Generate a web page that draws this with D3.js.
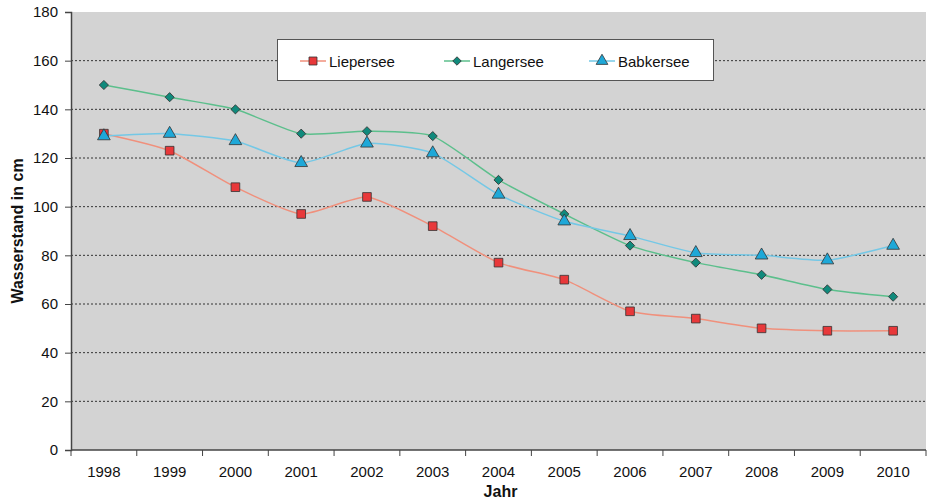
<!DOCTYPE html>
<html>
<head>
<meta charset="utf-8">
<script src="https://cdn.jsdelivr.net/npm/d3@7"></script>
<style>
  html, body { margin: 0; padding: 0; background: #fff; }
  svg { display: block; font-family: "Liberation Sans", Arial, sans-serif; }
</style>
</head>
<body>
<svg id="chart" width="927" height="499"></svg>
<script>
// Jahre und Wasserstände der drei Seen (cm)
const years = ["1998","1999","2000","2001","2002","2003","2004","2005","2006","2007","2008","2009","2010"];
const liepersee = [130, 123, 108, 97, 104, 92, 77, 70, 57, 54, 50, 49, 49];
const langersee = [150, 145, 140, 130, 131, 129, 111, 97, 84, 77, 72, 66, 63];
const babkersee = [129, 130, 127, 118, 126, 122, 105, 94, 88, 81, 80, 78, 84];
const yTicks = [0, 20, 40, 60, 80, 100, 120, 140, 160, 180];

const series = [
  { name: "Liepersee", values: liepersee, line: "#f0907c", fill: "#e8383a", shape: d3.symbolSquare, size: 75, rot: 0 },
  { name: "Langersee", values: langersee, line: "#5cbf8c", fill: "#108a7c", shape: d3.symbolSquare, size: 42, rot: 45 },
  { name: "Babkersee", values: babkersee, line: "#74c8e6", fill: "#1ea8d8", shape: d3.symbolTriangle, size: 70, rot: 0 }
];

const svg = d3.select("#chart");
const m = { left: 71, right: 926, top: 12, bottom: 450 };

const x = d3.scaleBand().domain(years).range([m.left, m.right]);
const y = d3.scaleLinear().domain([0, 180]).range([m.bottom, m.top]);

// Plotfläche
svg.append("rect")
  .attr("x", m.left).attr("y", m.top)
  .attr("width", m.right - m.left).attr("height", m.bottom - m.top)
  .attr("fill", "#d3d3d3");

// Gitterlinien
svg.append("g").selectAll("line")
  .data(yTicks.filter(t => t > 0 && t < 180))
  .join("line")
  .attr("x1", m.left).attr("x2", m.right)
  .attr("y1", d => y(d)).attr("y2", d => y(d))
  .attr("stroke", "#333").attr("stroke-width", 1)
  .attr("stroke-dasharray", "2,2");

// Y-Achse
const yAxis = svg.append("g")
  .attr("transform", `translate(${m.left},0)`)
  .call(d3.axisLeft(y).tickValues(yTicks).tickSize(6).tickPadding(7));
yAxis.select(".domain").attr("stroke", "#444").attr("stroke-width", 1.5);
yAxis.selectAll(".tick line").attr("stroke", "#444");
yAxis.selectAll("text").attr("font-size", 15).attr("fill", "#111");

// X-Achse (Striche zwischen den Kategorien)
const xAxisG = svg.append("g").attr("transform", `translate(0,${m.bottom})`);
xAxisG.append("line")
  .attr("x1", m.left).attr("x2", m.right)
  .attr("stroke", "#444").attr("stroke-width", 1.5);
xAxisG.selectAll("line.tk")
  .data(years.concat(["end"]))
  .join("line").attr("class", "tk")
  .attr("x1", (d, i) => m.left + i * x.step())
  .attr("x2", (d, i) => m.left + i * x.step())
  .attr("y1", 0).attr("y2", 6)
  .attr("stroke", "#444");
xAxisG.selectAll("text")
  .data(years)
  .join("text")
  .attr("x", d => x(d) + x.bandwidth() / 2)
  .attr("y", 27)
  .attr("text-anchor", "middle")
  .attr("font-size", 15).attr("fill", "#111")
  .text(d => d);

// Achsentitel
svg.append("text")
  .attr("transform", `translate(23,${(m.top + m.bottom) / 2}) rotate(-90)`)
  .attr("text-anchor", "middle")
  .attr("font-size", 16).attr("font-weight", "bold").attr("fill", "#111")
  .text("Wasserstand in cm");
svg.append("text")
  .attr("x", (m.left + m.right) / 2 + 2).attr("y", 497)
  .attr("text-anchor", "middle")
  .attr("font-size", 16).attr("font-weight", "bold").attr("fill", "#111")
  .text("Jahr");

// Linien und Marker
const cx = (d, i) => x(years[i]) + x.bandwidth() / 2;
const line = d3.line()
  .x(cx)
  .y(d => y(d))
  .curve(d3.curveCardinal.tension(0.4));

series.forEach(s => {
  svg.append("path")
    .datum(s.values)
    .attr("d", line)
    .attr("fill", "none")
    .attr("stroke", s.line)
    .attr("stroke-width", 1.5);
});
series.forEach(s => {
  svg.append("g").selectAll("path")
    .data(s.values)
    .join("path")
    .attr("transform", (d, i) => `translate(${cx(d, i)},${y(d)}) rotate(${s.rot})`)
    .attr("d", d3.symbol().type(s.shape).size(s.size))
    .attr("fill", s.fill)
    .attr("stroke", "#333")
    .attr("stroke-width", 0.8);
});

// Legende
const lg = svg.append("g");
lg.append("rect")
  .attr("x", 277.5).attr("y", 39.5)
  .attr("width", 436).attr("height", 41)
  .attr("fill", "#fff").attr("stroke", "#555").attr("stroke-width", 1);
const legendX = [313, 457, 602];
series.forEach((s, i) => {
  const g = lg.append("g").attr("transform", `translate(${legendX[i]},61)`);
  g.append("line").attr("x1", -13).attr("x2", 13)
    .attr("stroke", s.line).attr("stroke-width", 1.5);
  g.append("path")
    .attr("transform", `rotate(${s.rot})`)
    .attr("d", d3.symbol().type(s.shape).size(s.size * 0.85))
    .attr("fill", s.fill).attr("stroke", "#333").attr("stroke-width", 0.8);
  g.append("text")
    .attr("x", 16).attr("y", 5.5)
    .attr("font-size", 15).attr("fill", "#111")
    .text(s.name);
});
</script>
</body>
</html>
